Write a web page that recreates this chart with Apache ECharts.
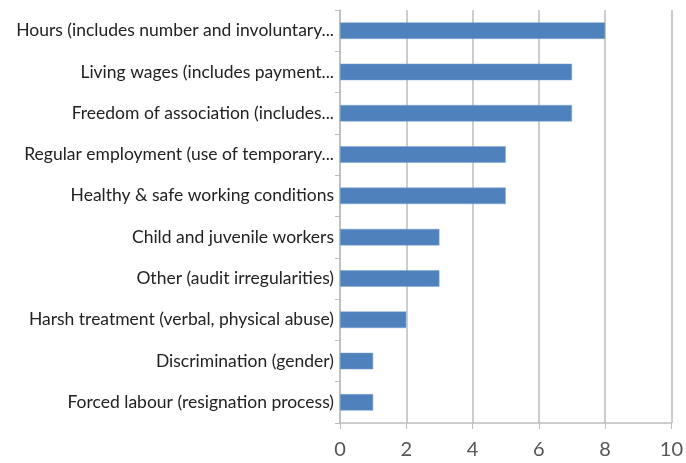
<!DOCTYPE html>
<html>
<head>
<meta charset="utf-8">
<script src="https://cdn.jsdelivr.net/npm/echarts@6/dist/echarts.min.js"></script>
<style>html,body{margin:0;padding:0;background:#fff;}#c{width:686px;height:463px;}</style>
</head>
<body>
<div id="c"></div>
<script>
const categories = [
  "Hours (includes number and involuntary...",
  "Living wages (includes payment...",
  "Freedom of association (includes...",
  "Regular employment (use of temporary...",
  "Healthy & safe working conditions",
  "Child and juvenile workers",
  "Other (audit irregularities)",
  "Harsh treatment (verbal, physical abuse)",
  "Discrimination (gender)",
  "Forced labour (resignation process)"
];
const values = [8, 7, 7, 5, 5, 3, 3, 2, 1, 1];
const xTicks = [0, 2, 4, 6, 8, 10];

const chart = echarts.init(document.getElementById('c'));
chart.setOption({
  animation: false,
  grid: { left: 340, right: 11, top: 10, bottom: 40, containLabel: false },
  xAxis: {
    type: 'value', min: xTicks[0], max: xTicks[xTicks.length - 1], interval: 2,
    axisLine: { show: true, lineStyle: { color: '#bdbdbd', width: 1.5 } },
    axisTick: { show: true, length: 6, lineStyle: { color: '#bdbdbd' } },
    axisLabel: { color: '#555', fontSize: 20, fontFamily: 'Lato, sans-serif', margin: 17 },
    splitLine: { show: true, lineStyle: { color: '#bdbdbd', width: 1.5 } }
  },
  yAxis: {
    type: 'category', data: categories, inverse: true,
    axisLine: { show: true, lineStyle: { color: '#bdbdbd', width: 1.5 } },
    axisTick: { show: true, length: 5, lineStyle: { color: '#bdbdbd' } },
    axisLabel: { color: '#222', fontSize: 17.5, fontFamily: 'Lato, sans-serif', margin: 6 }
  },
  series: [{
    type: 'bar', data: values, barCategoryGap: '60%',
    itemStyle: { color: '#4f81bd', borderColor: '#7fa3d3', borderWidth: 0.5 }
  }]
});
</script>
</body>
</html>
